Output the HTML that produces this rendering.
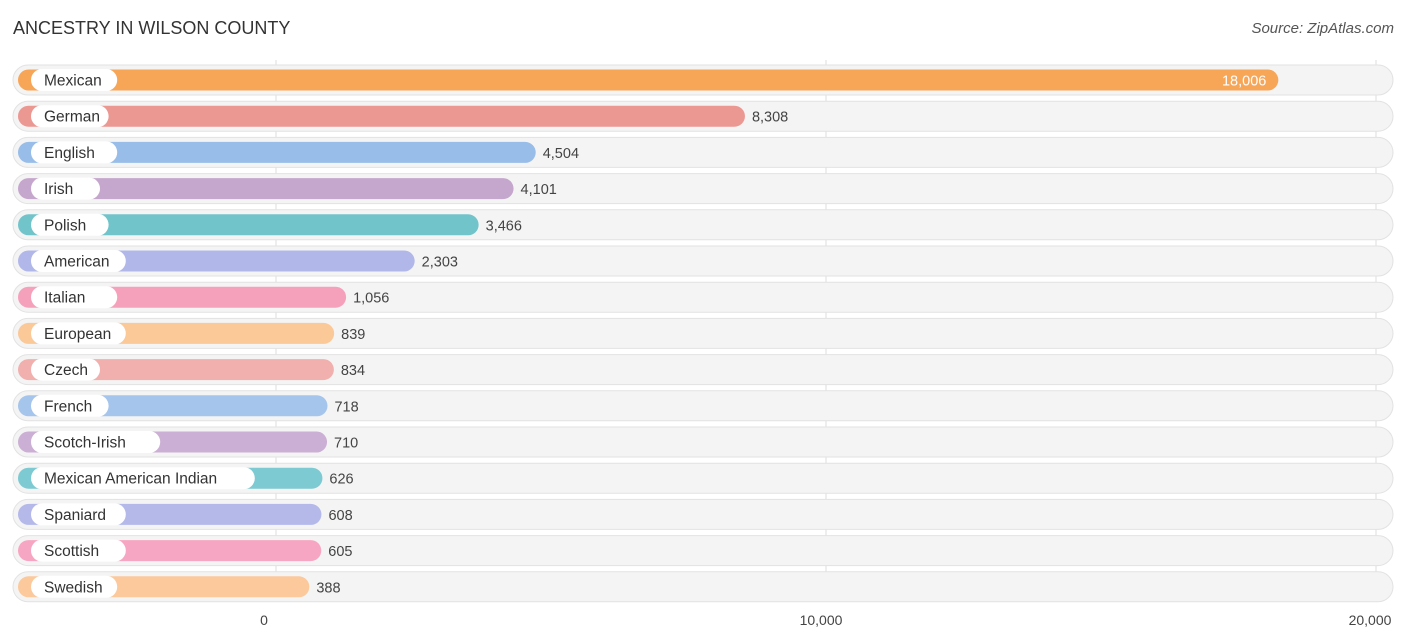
<!DOCTYPE html>
<html><head><meta charset="utf-8"><style>
body{margin:0;background:#fff;font-family:"Liberation Sans",sans-serif;}
svg{display:block}
</style></head><body>
<svg id="chart" width="1406" height="644">
<text x="13" y="34" font-size="18" fill="#333">ANCESTRY IN WILSON COUNTY</text>
<text x="1394" y="33" font-size="15" fill="#555" font-style="italic" text-anchor="end">Source: ZipAtlas.com</text>
<g id="grid"></g><g id="rows"></g><g id="axis"></g>
</svg>
<script>
const categories=["Mexican","German","English","Irish","Polish","American","Italian","European","Czech","French","Scotch-Irish","Mexican American Indian","Spaniard","Scottish","Swedish"];
const values=[18006,8308,4504,4101,3466,2303,1056,839,834,718,710,626,608,605,388];
const colors=["#f7a557","#eb9893","#98bde9","#c5a6cc","#72c4cb","#b1b7e9","#f6a1bc","#fbc898","#f1afad","#a6c5ec","#cbafd4","#7dcad2","#b4b9ea","#f6a6c2","#fbc99c"];
const ticks=[0,10000,20000];
const tickLabels=["0","10,000","20,000"];
const NS="http://www.w3.org/2000/svg";
const x=v=>276+v*0.055;
const rowY=i=>80+i*36.2;
function mk(t,a,p){const e=document.createElementNS(NS,t);for(const k in a)e.setAttribute(k,a[k]);p.appendChild(e);return e;}
const grid=document.getElementById('grid'),rows=document.getElementById('rows'),axis=document.getElementById('axis');
ticks.forEach((t,i)=>{
 const l=mk('line',{x1:x(t),x2:x(t),y1:60,y2:602,stroke:'#ddd','stroke-width':1},grid);
 
 
 const tx=mk('text',{x:x(t)-(i==0?12:i==2?6:5),y:625,'font-size':14,fill:'#444','text-anchor':'middle'},axis);
 tx.textContent=tickLabels[i];
 
 
});
categories.forEach((c,i)=>{
 const cy=rowY(i);
 const g=mk('g',{},rows);
 
 
 const bg=mk('rect',{x:13,y:cy-15,width:1380,height:30,rx:15,fill:'#f4f4f4',stroke:'#e2e2e2','stroke-width':1},g);
 
 
 const end=x(values[i])+12;
 const b=mk('rect',{x:18,y:cy-10.5,width:end-18,height:21,rx:10.5,fill:colors[i]},g);
 
 
 const lw=c.length*8.6+26;
 const p=mk('rect',{x:31,y:cy-11,width:lw,height:22,rx:11,fill:'#fff'},g);
 
 
 const t=mk('text',{x:44,y:cy+5.5,'font-size':15.5,fill:'#333'},g);
 t.textContent=c;
 
 
 const inside=i==0;
 const v=mk('text',{x:inside?end-12:end+7,y:cy+5.5,'font-size':14.5,fill:inside?'#fff':'#444','text-anchor':inside?'end':'start'},g);
 v.textContent=values[i].toLocaleString('en-US');
 
 
});
</script>
</body></html>
